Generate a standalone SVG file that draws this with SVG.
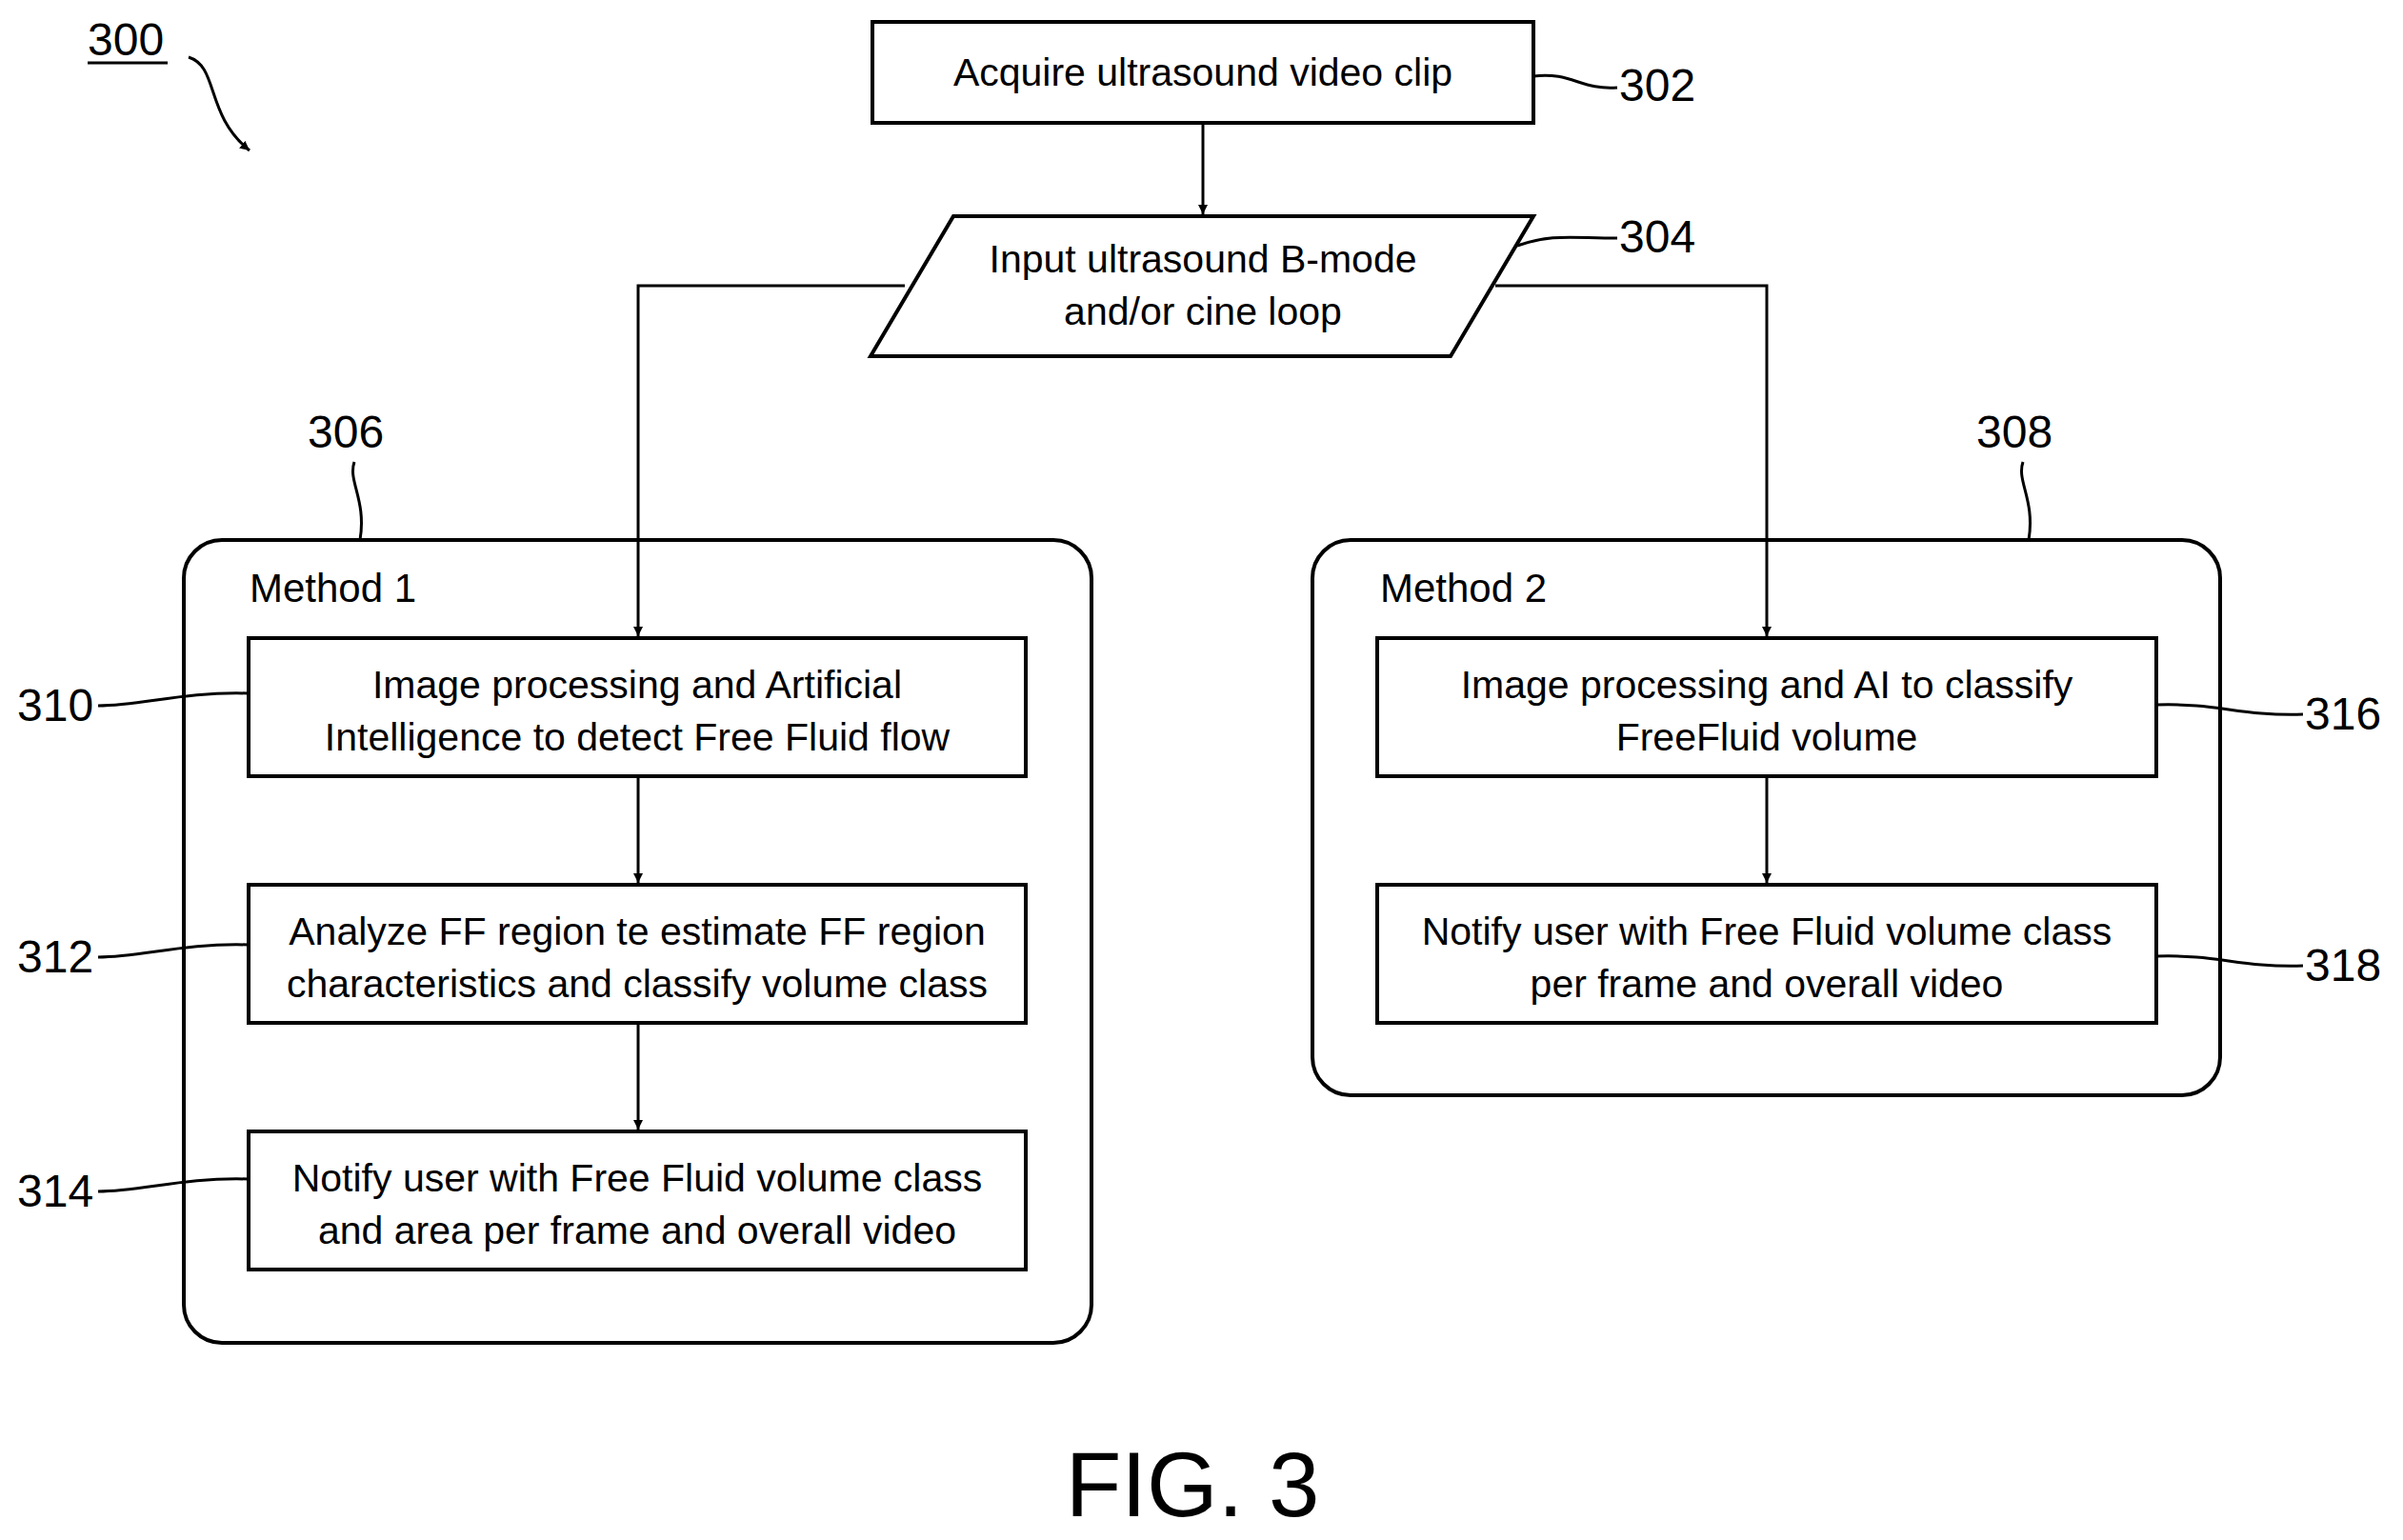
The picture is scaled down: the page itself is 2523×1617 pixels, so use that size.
<svg xmlns="http://www.w3.org/2000/svg" width="2523" height="1617" viewBox="0 0 2523 1617">
<defs>
<marker id="ar" viewBox="0 0 10 10" refX="10" refY="5" markerWidth="10" markerHeight="12" markerUnits="userSpaceOnUse" orient="auto"><path d="M0,0 L10,5 L0,10 z" fill="#000"/></marker>
<style>
.b{fill:#fff;stroke:#000;stroke-width:4}
.t{font-family:"Liberation Sans",Arial,sans-serif;font-size:41px;fill:#000;text-anchor:middle}
.l{font-family:"Liberation Sans",Arial,sans-serif;font-size:48px;fill:#000}
.c{fill:none;stroke:#000;stroke-width:3}
</style>
</defs>
<rect width="2523" height="1617" fill="#fff"/>
<g id="ref300"><text class="l" x="92" y="58">300</text><line x1="92" y1="66" x2="176" y2="66" stroke="#000" stroke-width="3"/><path class="c" d="M198,60 C230,70 215,120 262,158" marker-end="url(#ar)"/></g>
<g id="m1"><rect class="b" x="193" y="567" width="953" height="843" rx="40"/><text class="l" x="262" y="632" style="font-size:42px">Method 1</text></g>
<g id="m2"><rect class="b" x="1378" y="567" width="953" height="583" rx="40"/><text class="l" x="1449" y="632" style="font-size:42px">Method 2</text></g>
<g id="connectors">
<line class="c" x1="1263" y1="129" x2="1263" y2="225" marker-end="url(#ar)"/>
<polyline class="c" points="950,300 670,300 670,668" marker-end="url(#ar)"/>
<polyline class="c" points="1570,300 1855,300 1855,668" marker-end="url(#ar)"/>
<line class="c" x1="670" y1="815" x2="670" y2="927" marker-end="url(#ar)"/>
<line class="c" x1="670" y1="1074" x2="670" y2="1186" marker-end="url(#ar)"/>
<line class="c" x1="1855" y1="815" x2="1855" y2="927" marker-end="url(#ar)"/>
</g>
<g id="n302"><rect class="b" x="916" y="23" width="694" height="106"/><text class="t" x="1263" y="90">Acquire ultrasound video clip</text><path class="c" d="M1610,80 C1650,75 1660,95 1698,92"/><text class="l" x="1700" y="106">302</text></g>
<g id="n304"><polygon class="b" points="1001,227 1610,227 1523,374 914,374"/><text class="t" x="1263" y="286">Input ultrasound B-mode</text><text class="t" x="1263" y="341">and/or cine loop</text><path class="c" d="M1593,258 C1630,245 1650,250 1698,250"/><text class="l" x="1700" y="265">304</text></g>
<g id="n306"><text class="l" x="323" y="470">306</text><path class="c" d="M372,485 C365,505 385,525 378,567"/></g>
<g id="n308"><text class="l" x="2075" y="470">308</text><path class="c" d="M2124,485 C2117,505 2137,525 2130,567"/></g>
<g id="n310"><rect class="b" x="261" y="670" width="816" height="145"/><text class="t" x="669" y="733">Image processing and Artificial</text><text class="t" x="669" y="788">Intelligence to detect Free Fluid flow</text><path class="c" d="M103,741 C150,741 190,726 261,728"/><text class="l" x="18" y="757">310</text></g>
<g id="n312"><rect class="b" x="261" y="929" width="816" height="145"/><text class="t" x="669" y="992">Analyze FF region te estimate FF region</text><text class="t" x="669" y="1047">characteristics and classify volume class</text><path class="c" d="M103,1005 C150,1005 190,990 261,992"/><text class="l" x="18" y="1021">312</text></g>
<g id="n314"><rect class="b" x="261" y="1188" width="816" height="145"/><text class="t" x="669" y="1251">Notify user with Free Fluid volume class</text><text class="t" x="669" y="1306">and area per frame and overall video</text><path class="c" d="M103,1251 C150,1251 190,1236 261,1238"/><text class="l" x="18" y="1267">314</text></g>
<g id="n316"><rect class="b" x="1446" y="670" width="818" height="145"/><text class="t" x="1855" y="733">Image processing and AI to classify</text><text class="t" x="1855" y="788">FreeFluid volume</text><path class="c" d="M2264,740 C2330,738 2350,752 2418,750"/><text class="l" x="2420" y="766">316</text></g>
<g id="n318"><rect class="b" x="1446" y="929" width="818" height="145"/><text class="t" x="1855" y="992">Notify user with Free Fluid volume class</text><text class="t" x="1855" y="1047">per frame and overall video</text><path class="c" d="M2264,1004 C2330,1002 2350,1016 2418,1014"/><text class="l" x="2420" y="1030">318</text></g>
<text x="1252" y="1592" style="font-family:'Liberation Sans',Arial,sans-serif;font-size:96px;text-anchor:middle">FIG. 3</text>
</svg>
